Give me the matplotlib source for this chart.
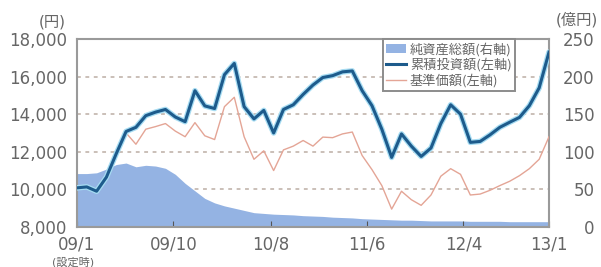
import matplotlib
matplotlib.use("Agg")
import matplotlib.pyplot as plt
from matplotlib.patches import Patch
from matplotlib.lines import Line2D
import numpy as np

plt.rcParams['font.family'] = ['DejaVu Sans', 'Noto Sans CJK JP']

# monthly values, 09/1 .. 13/1
cum_invest = [10080, 10130, 9900, 10650, 11900, 13080, 13300, 13920, 14110, 14250,
              13850, 13600, 15250, 14440, 14300, 16100, 16700, 14400, 13750, 14200,
              13000, 14250, 14500, 15050, 15550, 15950, 16050, 16250, 16300, 15250,
              14450, 13200, 11700, 12950, 12300, 11750, 12200, 13500, 14500, 14000,
              12500, 12550, 12900, 13300, 13570, 13830, 14450, 15400, 17300]
nav_price = [10080, 10130, 9900, 10650, 11900, 13000, 12400, 13200, 13340, 13500,
             13100, 12800, 13550, 12850, 12650, 14400, 14900, 12800, 11600, 12050,
             11000, 12100, 12300, 12600, 12300, 12780, 12750, 12950, 13050, 11800,
             11050, 10200, 8950, 9900, 9450, 9150, 9700, 10700, 11100, 10800,
             9700, 9750, 9950, 10200, 10430, 10730, 11100, 11600, 12800]
net_assets = [71, 71, 72, 77, 83, 85, 80, 82, 81, 78,
              70, 58, 48, 38, 32, 28, 25, 22, 19, 18,
              17, 16.5, 16, 15, 14.5, 14, 13, 12.5, 12, 11,
              10.5, 10, 9.5, 9, 9, 8.5, 8, 8, 8, 8,
              7.5, 7.5, 7.5, 7.5, 7, 7, 7, 7, 7]
months = np.arange(len(cum_invest))

tick_pos = [0, 9.8, 19.7, 29.5, 39.3, 48]
tick_labels = ["09/1", "09/10", "10/8", "11/6", "12/4", "13/1"]
left_ticks = [8000, 10000, 12000, 14000, 16000, 18000]
right_ticks = [0, 50, 100, 150, 200, 250]

labels = ["純資産総額(右軸)", "累積投資額(左軸)", "基準価額(左軸)"]
c_fill = "#94b3e3"
c_blue = "#1d5b8c"
c_red = "#e4a596"
c_text = "#666666"
c_frame = "#9a9a9a"

fig = plt.figure(figsize=(6.01, 2.67), dpi=100)
ax = fig.add_axes([0.128, 0.15, 0.7855, 0.704])
ax2 = ax.twinx()

# right axis behind: fill + grid
ax2.set_zorder(1)
ax.set_zorder(2)
ax.patch.set_visible(False)
ax2.patch.set_facecolor("white")
ax2.fill_between(months, 0, net_assets, color=c_fill, lw=0, zorder=2)
for v in right_ticks[1:-1]:
    ax2.axhline(v, color="#bcaea4", lw=1.1, ls=(0, (2.5, 3)), zorder=1)
ax2.set_ylim(0, 250)
ax2.set_yticks(right_ticks)
ax2.set_yticklabels([str(v) for v in right_ticks], ha="right")
ax2.tick_params(axis="y", length=0, pad=33, labelsize=12, labelcolor=c_text)

ax.plot(months, nav_price, color=c_red, lw=1.0, zorder=3)
ax.plot(months, cum_invest, color="#a6dcf2", lw=4.0, zorder=4, solid_capstyle="round")
ax.plot(months, cum_invest, color=c_blue, lw=2.2, zorder=5)

ax.set_xlim(0, 48)
ax.set_ylim(8000, 18000)
ax.set_yticks(left_ticks)
ax.set_yticklabels([f"{v:,}" for v in left_ticks])
ax.tick_params(axis="y", length=0, pad=7, labelsize=12, labelcolor=c_text)
ax.set_xticks(tick_pos)
ax.set_xticklabels(tick_labels)
ax.tick_params(axis="x", direction="in", length=4, color="#555555", pad=6,
               labelsize=12, labelcolor=c_text)

for sp in ax.spines.values():
    sp.set_color(c_frame)
    sp.set_linewidth(1.5)
for sp in ax2.spines.values():
    sp.set_visible(False)

ax.text(-0.052, -0.19, "(設定時)", transform=ax.transAxes, ha="left", va="center",
        fontsize=8, color=c_text)
fig.text(0.087, 0.918, "(円)", ha="center", va="center", fontsize=11, color=c_text)
fig.text(0.96, 0.925, "(億円)", ha="center", va="center", fontsize=11, color=c_text)

handles = [Patch(facecolor=c_fill, edgecolor="none"),
           Line2D([], [], color=c_blue, lw=2.2),
           Line2D([], [], color=c_red, lw=1.0)]
leg = ax.legend(handles, labels, loc="upper right", bbox_to_anchor=(0.928, 1.0),
                borderaxespad=0, fontsize=9.5, frameon=True, fancybox=False,
                framealpha=1, handlelength=1.5, handletextpad=0.3,
                labelspacing=0.15, borderpad=0.25)
leg.get_frame().set_edgecolor("#8c8c8c")
leg.get_frame().set_linewidth(1.4)
for t in leg.get_texts():
    t.set_color(c_text)
    t.set_fontfamily(["Noto Sans CJK JP"])

fig.savefig("out.png", dpi=100, facecolor="white")
